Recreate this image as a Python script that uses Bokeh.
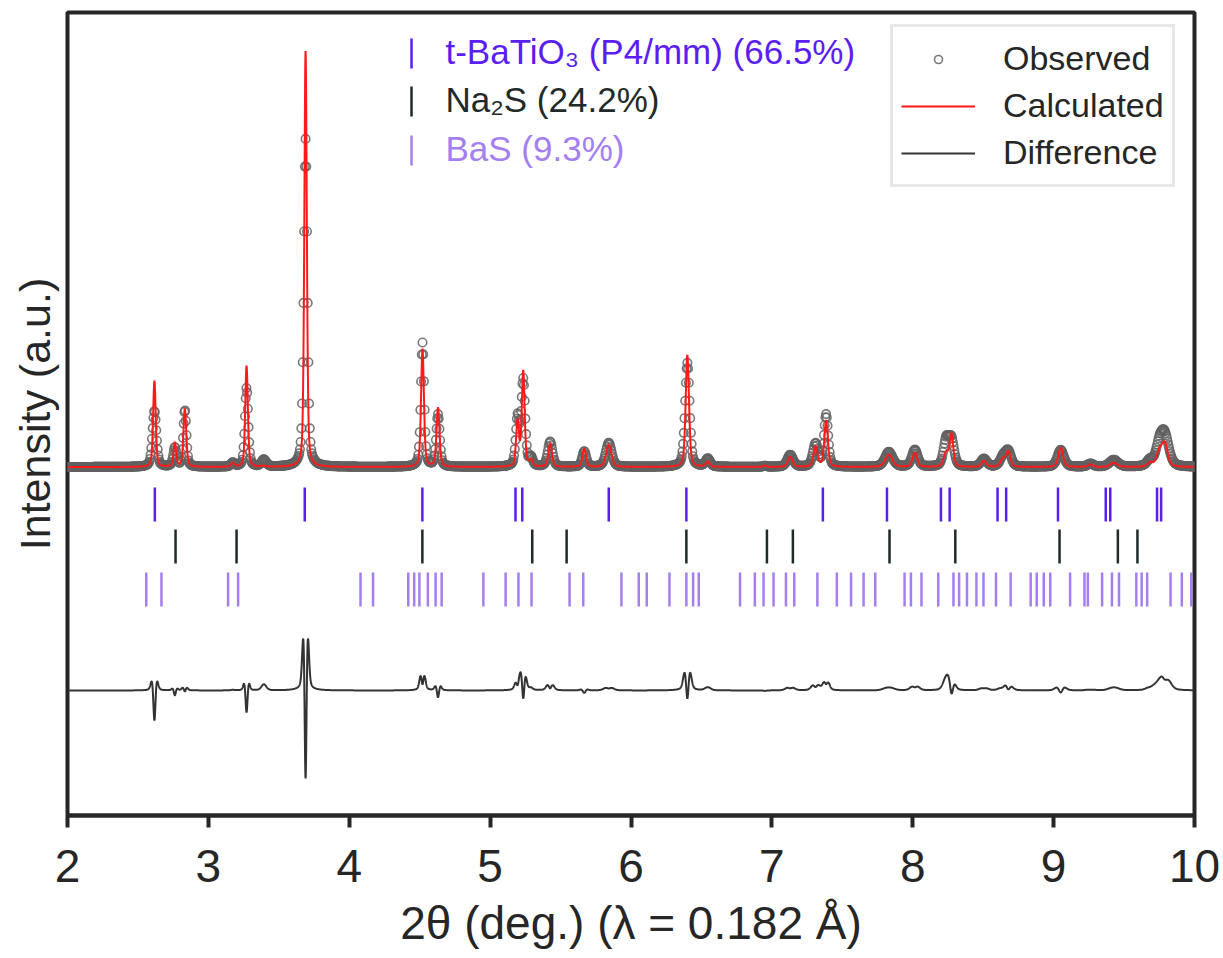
import numpy as np
from bokeh.plotting import figure
from bokeh.models import Range1d, Legend, LegendItem, FixedTicker
from bokeh.core.properties import value
from bokeh.embed import file_html
from bokeh.resources import INLINE

# ---------------- data ----------------
# Bragg reflection positions, 2theta (deg.)
batio3_ticks = [2.620, 3.684, 4.519, 5.180, 5.228, 5.842, 6.393, 7.362, 7.817, 8.200,
                8.262, 8.602, 8.663, 9.031, 9.370, 9.402, 9.734, 9.763]
na2s_ticks = [2.767, 3.200, 4.519, 5.299, 5.543, 6.393, 6.965, 7.149, 7.835, 8.302,
              9.042, 9.456, 9.595]
bas_ticks = [2.559, 2.667, 3.140, 3.211, 4.080, 4.169, 4.419, 4.461, 4.498, 4.558,
             4.613, 4.656, 4.952, 5.110, 5.201, 5.294, 5.564, 5.661, 5.932, 6.055,
             6.112, 6.273, 6.393, 6.441, 6.481, 6.774, 6.879, 6.941, 7.012, 7.100,
             7.159, 7.323, 7.461, 7.562, 7.651, 7.734, 7.942, 7.987, 8.062, 8.181,
             8.289, 8.329, 8.385, 8.452, 8.502, 8.591, 8.695, 8.837, 8.880, 8.930,
             8.976, 9.117, 9.219, 9.243, 9.344, 9.414, 9.464, 9.587, 9.625, 9.664,
             9.830, 9.910, 9.977]

# diffraction peaks: position (deg.), intensity (a.u.), FWHM (deg.)
peak_pos = [2.617, 2.762, 2.833, 3.173, 3.271, 3.394, 3.690, 4.520, 4.630, 5.195,
            5.235, 5.290, 5.426, 5.668, 5.842, 6.400, 6.545, 6.950, 7.130, 7.310,
            7.385, 7.830, 8.015, 8.237, 8.275, 8.505, 8.640, 8.678, 9.050, 9.262,
            9.427, 9.683, 9.750, 9.789]
calc_height = [860, 240, 580, 35, 1010, 10, 4160, 1180, 590, 450,
               950, 60, 230, 180, 220, 1120, 50, 15, 100, 200,
               460, 120, 140, 140, 320, 60, 80, 150, 190, 25,
               40, 40, 140, 220]
calc_fwhm = [0.022, 0.022, 0.024, 0.030, 0.022, 0.030, 0.021, 0.024, 0.025, 0.025,
             0.024, 0.030, 0.030, 0.030, 0.045, 0.028, 0.035, 0.030, 0.040, 0.035,
             0.030, 0.060, 0.040, 0.040, 0.030, 0.040, 0.040, 0.035, 0.040, 0.040,
             0.060, 0.040, 0.050, 0.050]
obs_height = [560, 190, 570, 40, 790, 70, 3280, 1240, 520, 480,
              860, 80, 250, 155, 240, 1040, 80, 10, 120, 230,
              520, 150, 170, 260, 260, 80, 90, 150, 170, 30,
              70, 60, 180, 300]
obs_fwhm = [0.034, 0.028, 0.026, 0.030, 0.028, 0.040, 0.030, 0.028, 0.030, 0.030,
            0.032, 0.030, 0.040, 0.035, 0.050, 0.038, 0.040, 0.030, 0.050, 0.045,
            0.035, 0.065, 0.050, 0.045, 0.045, 0.050, 0.050, 0.050, 0.055, 0.050,
            0.070, 0.050, 0.060, 0.070]

x_labels = ["2", "3", "4", "5", "6", "7", "8", "9", "10"]
x_tick_values = [2, 3, 4, 5, 6, 7, 8, 9, 10]
phase_labels = ["t-BaTiO\u2083 (P4/mm) (66.5%)", "Na\u2082S (24.2%)", "BaS (9.3%)"]
series_labels = ["Observed", "Calculated", "Difference"]

# ---------------- profiles ----------------
obs_step = 0.005
calc_step = 0.001
tt_obs = np.arange(2.0, 10.0 + 1e-9, obs_step)
tt_fine = np.arange(2.0, 10.0 + 1e-9, calc_step)


def pseudo_voigt(x, pos, h, fwhm, eta=0.4):
    x = np.asarray(x)[:, None]
    pos = np.asarray(pos)[None, :]
    h = np.asarray(h, dtype=float)[None, :]
    hw = np.asarray(fwhm)[None, :] / 2.0
    t = ((x - pos) / hw) ** 2
    return (h * (eta / (1.0 + t) + (1 - eta) * np.exp(-np.log(2) * t))).sum(axis=1)


y_obs = pseudo_voigt(tt_obs, peak_pos, obs_height, obs_fwhm)
y_calc = pseudo_voigt(tt_fine, peak_pos, calc_height, calc_fwhm)
y_obs_fine = pseudo_voigt(tt_fine, peak_pos, obs_height, obs_fwhm)
diff_offset = -2235
y_diff = y_obs_fine - y_calc + diff_offset

# ---------------- styling ----------------
FONT = "Liberation Sans"
TXT = "#262626"
C_BTO = "#5a1ef2"
C_NAS = "#1f2a2a"
C_BAS = "#a57ff0"

p = figure(width=1223, height=958,
           x_range=Range1d(2, 10), y_range=Range1d(-3485, 4545),
           output_backend="svg", toolbar_location=None,
           min_border_left=67, min_border_right=29,
           min_border_top=12, min_border_bottom=143)
p.background_fill_color = "white"
p.border_fill_color = "white"
p.grid.visible = False
p.outline_line_color = TXT
p.outline_line_width = 4
p.outline_line_alpha = 1.0

xa = p.xaxis[0]
xa.ticker = FixedTicker(ticks=x_tick_values)
xa.major_label_overrides = {v: s for v, s in zip(x_tick_values, x_labels)}
xa.major_label_text_font = FONT
xa.major_label_text_font_size = "46px"
xa.major_label_text_color = TXT
xa.major_tick_out = 12
xa.major_tick_in = 0
xa.major_tick_line_width = 4
xa.major_tick_line_color = TXT
xa.minor_tick_line_color = None
xa.axis_line_width = 4
xa.axis_line_color = TXT
xa.major_label_standoff = 22
xa.axis_label = "2\u03b8 (deg.) (\u03bb = 0.182 \u00c5)"
xa.axis_label_text_font = FONT
xa.axis_label_text_font_size = "46px"
xa.axis_label_text_font_style = "normal"
xa.axis_label_text_color = TXT
xa.axis_label_standoff = 12

ya = p.yaxis[0]
ya.ticker = FixedTicker(ticks=[])
ya.major_tick_line_color = None
ya.minor_tick_line_color = None
ya.major_tick_out = 0
ya.major_label_standoff = 0
ya.axis_line_color = None
ya.axis_label = "Intensity (a.u.)"
ya.axis_label_text_font = FONT
ya.axis_label_text_font_size = "43px"
ya.axis_label_text_font_style = "normal"
ya.axis_label_text_color = TXT
ya.axis_label_standoff = 9

# ---------------- glyphs ----------------
r_obs = p.scatter(tt_obs, y_obs, marker="circle", size=8.5, fill_color=None,
                  line_color="#626262", line_width=1.6, line_alpha=0.85)
r_calc = p.line(tt_fine, y_calc, line_color="#ff1a1a", line_width=2)
r_diff = p.line(tt_fine, y_diff, line_color="#333333", line_width=2)

row_y = [-375, -795, -1225]
for ticks, col, yy in zip([batio3_ticks, na2s_ticks, bas_ticks], [C_BTO, C_NAS, C_BAS], row_y):
    p.scatter(ticks, [yy] * len(ticks), marker="dash", angle=np.pi / 2, size=34,
              line_color=col, line_width=2.5)

# phase annotation (label block)
lab_x_marker = 4.442
lab_x_text = 4.683
lab_y_text = [4155, 3675, 3185]
lab_y_marker = [4135, 3655, 3165]
for lab, col, yt, ym in zip(phase_labels, [C_BTO, C_NAS, C_BAS], lab_y_text, lab_y_marker):
    p.scatter([lab_x_marker], [ym], marker="dash", angle=np.pi / 2, size=30,
              line_color=col, line_width=2.5)
    p.text([lab_x_text], [yt], text=[lab], text_font=value(FONT), text_font_size="35px",
           text_color=col, text_baseline="middle", text_align="left")

legend = Legend(items=[LegendItem(label=series_labels[0], renderers=[r_obs]),
                       LegendItem(label=series_labels[1], renderers=[r_calc]),
                       LegendItem(label=series_labels[2], renderers=[r_diff])],
                location=(823, 628))
legend.label_text_font = FONT
legend.label_text_font_size = "34px"
legend.label_text_color = TXT
legend.glyph_width = 74
legend.glyph_height = 20
legend.label_height = 47
legend.label_standoff = 28
legend.spacing = 0
legend.padding = 8
legend.margin = 0
legend.border_line_color = "#d0d0d0"
legend.border_line_width = 3
legend.background_fill_color = "white"
legend.background_fill_alpha = 1.0
p.add_layout(legend, "center")

open("out.html", "w").write(file_html(p, INLINE))
